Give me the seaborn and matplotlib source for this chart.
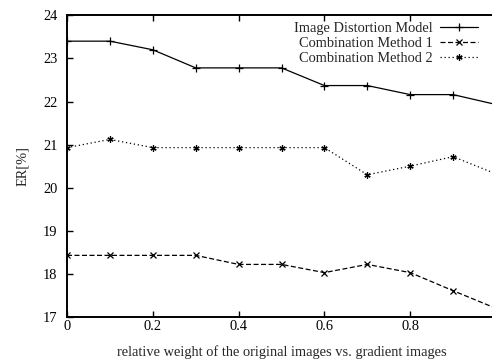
import matplotlib
matplotlib.use("Agg")
import numpy as np
import pandas as pd
import seaborn as sns
import matplotlib.pyplot as plt

# values
weights = [0.0, 0.1, 0.2, 0.3, 0.4, 0.5, 0.6, 0.7, 0.8, 0.9, 1.0]
distortion = [23.4, 23.4, 23.2, 22.78, 22.78, 22.78, 22.37, 22.37, 22.16, 22.16, 21.93]
comb1 = [18.43, 18.43, 18.43, 18.43, 18.22, 18.22, 18.03, 18.22, 18.03, 17.61, 17.2]
comb2 = [20.93, 21.12, 20.93, 20.93, 20.93, 20.93, 20.93, 20.3, 20.5, 20.72, 20.32]
labels = ["Image Distortion Model", "Combination Method 1", "Combination Method 2"]
yticks = [17, 18, 19, 20, 21, 22, 23, 24]
xticks = [0, 0.2, 0.4, 0.6, 0.8]

sns.set_theme(style="ticks")
plt.rcParams["font.family"] = ["Liberation Serif", "DejaVu Serif"]
plt.rcParams["font.size"] = 10.4

fig = plt.figure(figsize=(4.92, 3.63), dpi=100)
# right edge of the plot lies just past the figure, like the cropped original
ax = fig.add_axes([67 / 492, 1 - 317 / 363, (496 - 67) / 492, (317 - 15.3) / 363])

markers = [("+", 6), ("x", 4), ((6, 2, 0), 4.5)]
lstyles = ["-", (0, (4, 2)), (0, (1, 2.2))]
for vals, lab, (mk, ms), ls in zip([distortion, comb1, comb2], labels, markers, lstyles):
    df = pd.DataFrame({"w": weights, "er": vals})
    sns.lineplot(data=df, x="w", y="er", ax=ax, color="black", linewidth=0.9,
                 label=lab)
    line = ax.lines[-1]
    line.set_linestyle(ls)
    line.set_marker(mk)
    line.set_markersize(ms)
    line.set_markeredgewidth(0.9)
    line.set_markeredgecolor("black")
    line.set_markerfacecolor("black")

ax.set_xlim(0, 1.0)
ax.set_ylim(17, 24)
ax.set_yticks(yticks)
ax.set_yticklabels([str(t) for t in yticks])
ax.set_xticks(xticks)
ax.set_xticklabels(["0", "0.2", "0.4", "0.6", "0.8"])
ax.tick_params(direction="in", length=4, width=1, top=True, right=False,
               labelsize=10.4, colors="black")
ax.tick_params(axis="x", pad=2)
ax.tick_params(axis="y", pad=7)
for sp in ax.spines.values():
    sp.set_linewidth(1.4)
    sp.set_color("black")
ax.set_xlabel("relative weight of the original images vs. gradient images",
              fontsize=10.4, labelpad=9)
ax.set_ylabel("ER[%]", fontsize=10.4, labelpad=10)

handles = ax.lines[:3]
leg = ax.legend(handles, labels, loc="upper right",
                bbox_to_anchor=(485 / 492, 1 - 15 / 363),
                bbox_transform=fig.transFigure, frameon=False, markerfirst=False,
                fontsize=10.4, handlelength=2.6, handletextpad=0.55,
                labelspacing=0.12, borderpad=0)

fig.savefig("out.png", dpi=100)
